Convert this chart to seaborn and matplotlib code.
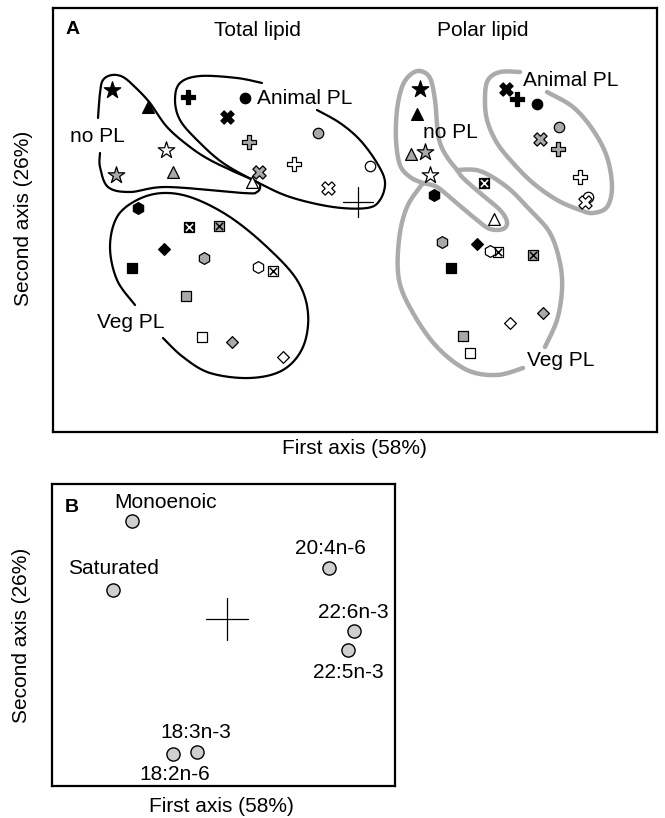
import numpy as np
import pandas as pd
import matplotlib
matplotlib.use("Agg")
import matplotlib.pyplot as plt
import seaborn as sns

sns.set_theme(style="white")
plt.rcParams["font.family"] = ["Liberation Sans", "DejaVu Sans"]
plt.rcParams["text.color"] = "black"

# ---------------- Panel A : sample scores (arbitrary units, centroid at 0,0)
total_shape = ["star", "tri", "star", "star", "tri", "tri", "plus", "circle", "x", "plus", "circle", "plus", "x", "x", "circle",
               "hex", "boxx", "boxx", "diamond", "hex", "square", "hex", "boxx", "square", "square", "diamond", "diamond"]
total_fill = ["f", "f", "o", "h", "h", "o", "f", "f", "f", "h", "h", "o", "h", "o", "o",
              "f", "f", "h", "f", "h", "f", "o", "o", "h", "o", "h", "o"]
total_x = [-246, -210, -192, -242, -185, -106, -170, -113, -131, -109, -40, -64, -99, -30, 12,
           -220, -169, -139, -194, -154, -226, -100, -85, -172, -156, -126, -75]
total_y = [112, 95, 52, 27, 30, 20, 105, 104, 85, 60, 69, 38, 30, 14, 36,
           -6, -25, -24, -47, -56, -66, -65, -69, -94, -135, -140, -155]

polar_shape = ["star", "tri", "tri", "star", "star", "hex", "boxx", "tri", "x", "plus", "circle", "circle", "x", "plus", "plus", "circle", "x",
               "hex", "diamond", "hex", "boxx", "boxx", "square", "diamond", "diamond", "square", "square"]
polar_fill = ["f", "f", "h", "h", "o", "f", "f", "o", "f", "f", "f", "h", "h", "h", "o", "o", "o",
              "h", "f", "o", "o", "h", "f", "h", "o", "h", "o"]
polar_x = [62, 59, 53, 67, 72, 76, 126, 136, 148, 159, 179, 201, 182, 200, 222, 230, 227,
           84, 119, 132, 140, 175, 93, 185, 152, 105, 112]
polar_y = [113, 88, 48, 50, 27, 7, 19, -17, 113, 103, 98, 75, 63, 53, 25, 5, 0,
           -40, -42, -49, -50, -53, -66, -111, -121, -134, -151]

# group outlines (hand-drawn envelopes)
nopl_total = [(-258, 49), (-258, 35), (-250, 15), (-228, 10), (-191, 15), (-115, 9), (-101, 10), (-98, 17),
              (-105, 22), (-121, 29), (-148, 42), (-168, 55), (-191, 75), (-208, 99), (-223, 115), (-235, 125),
              (-246, 127), (-255, 122), (-258, 109), (-260, 84)]
animal_total = [(-96, 119), (-121, 124), (-158, 126), (-178, 119), (-183, 102), (-178, 82), (-161, 62), (-135, 39),
                (-101, 20), (-68, 5), (-25, -5), (9, -6), (22, 2), (27, 20), (19, 39), (2, 62), (-18, 79), (-41, 92)]
veg_total = [(-223, -103), (-241, -78), (-248, -45), (-241, -15), (-221, 2), (-195, 9), (-165, 4), (-128, -15),
             (-91, -45), (-61, -78), (-50, -111), (-55, -145), (-75, -168), (-108, -176), (-148, -171), (-175, -155),
             (-195, -136)]
nopl_polar = [(62, 131), (72, 124), (77, 102), (79, 77), (82, 59), (89, 45), (99, 32), (105, 24), (122, 9), (142, -8),
              (149, -20), (145, -27), (132, -27), (119, -18), (95, 2), (79, 15), (65, 19), (52, 25), (42, 37), (38, 62),
              (39, 92), (44, 115), (52, 127)]
veg_polar_a = [(65, 19), (49, -5), (41, -38), (41, -78), (55, -111), (79, -145), (109, -168), (139, -173), (165, -166)]
veg_polar_b = [(187, -145), (199, -118), (204, -88), (202, -61), (192, -31), (172, -8), (149, 15), (122, 31), (99, 32)]
animal_polar = [(162, 130), (142, 130), (130, 122), (127, 105), (129, 82), (139, 59), (155, 39), (175, 19), (199, 2),
                (222, -8), (235, -11), (249, -5), (254, 15), (249, 45), (235, 72), (215, 95), (189, 110)]

# ---------------- Panel B : fatty acid loadings
fa_names = ["Monoenoic", "Saturated", "20:4n-6", "22:6n-3", "22:5n-3", "18:3n-3", "18:2n-6"]
fa_x = [-95, -114, 102, 127, 121, -30, -54]
fa_y = [98, 29, 51, -12, -31, -133, -135]


def smooth(pts, closed=False, n=24):
    P = np.asarray(pts, float)
    if closed:
        P = np.vstack([P[-1], P, P[0], P[1]])
    else:
        P = np.vstack([P[0], P, P[-1]])
    out = []
    t = np.linspace(0, 1, n, endpoint=False)[:, None]
    for i in range(1, len(P) - 2):
        p0, p1, p2, p3 = P[i - 1], P[i], P[i + 1], P[i + 2]
        out.append(0.5 * ((2 * p1) + (-p0 + p2) * t + (2 * p0 - 5 * p1 + 4 * p2 - p3) * t ** 2
                          + (-p0 + 3 * p1 - 3 * p2 + p3) * t ** 3))
    out.append(P[-2][None, :])
    return np.vstack(out)


W, H = 665, 818
fig = plt.figure(figsize=(W / 100, H / 100), dpi=100)
axA = fig.add_axes([53 / W, 1 - 432 / H, 604 / W, 424 / H])
axB = fig.add_axes([52 / W, 1 - 786 / H, 343 / W, 302 / H])

marker_map = {"star": ("*", 12.5), "tri": ("^", 8.5), "plus": ("P", 9.5), "circle": ("o", 7.5),
              "x": ("X", 9.5), "hex": ("h", 8.5), "square": ("s", 7.0), "diamond": ("D", 6.0),
              "boxx": ("s", 7.5)}
face_map = {"f": "black", "h": "#a9a9a9", "o": "white"}

samples = pd.concat([
    pd.DataFrame({"x": total_x, "y": total_y, "shape": total_shape, "fill": total_fill, "lipid": "Total lipid"}),
    pd.DataFrame({"x": polar_x, "y": polar_y, "shape": polar_shape, "fill": polar_fill, "lipid": "Polar lipid"}),
], ignore_index=True)

for (shp, fl), sub in samples.groupby(["shape", "fill"]):
    mk, ms = marker_map[shp]
    sns.scatterplot(data=sub, x="x", y="y", marker=mk, s=ms ** 2, color=face_map[fl],
                    edgecolor="black", linewidth=0.9, ax=axA, legend=False, zorder=4)
    if shp == "boxx":
        sns.scatterplot(data=sub, x="x", y="y", marker="x", s=(ms * 0.7) ** 2,
                        color="white" if fl == "f" else "black", linewidth=1.1,
                        ax=axA, legend=False, zorder=5)

black_kw = dict(color="black", lw=1.6, solid_capstyle="round", zorder=2)
grey_kw = dict(color="#ababab", lw=3.2, solid_capstyle="round", zorder=2)
for pts, closed in [(nopl_total, False), (animal_total, False), (veg_total, False)]:
    c = smooth(pts, closed)
    axA.plot(c[:, 0], c[:, 1], **black_kw)
for pts, closed in [(nopl_polar, True), (veg_polar_a, False), (veg_polar_b, False), (animal_polar, False)]:
    c = smooth(pts, closed)
    axA.plot(c[:, 0], c[:, 1], **grey_kw)

# centroid cross
axA.plot([-15, 15], [0, 0], color="black", lw=0.9, zorder=3)
axA.plot([0, 0], [-15, 15], color="black", lw=0.9, zorder=3)

fs = 15
axA.text(-292, 172, "A", fontsize=14, fontweight="bold", ha="left", va="center")
axA.text(-101, 172, "Total lipid", fontsize=fs, ha="center", va="center")
axA.text(125, 172, "Polar lipid", fontsize=fs, ha="center", va="center")
axA.text(-288, 66, "no PL", fontsize=fs, ha="left", va="center")
axA.text(-101, 104, "Animal PL", fontsize=fs, ha="left", va="center")
axA.text(65, 69, "no PL", fontsize=fs, ha="left", va="center")
axA.text(165, 122, "Animal PL", fontsize=fs, ha="left", va="center")
axA.text(-261, -120, "Veg PL", fontsize=fs, ha="left", va="center")
axA.text(169, -158, "Veg PL", fontsize=fs, ha="left", va="center")

axA.set_xlim(-305, 299)
axA.set_ylim(-230, 194)

# ---------------- Panel B
fa = pd.DataFrame({"x": fa_x, "y": fa_y, "name": fa_names})
sns.scatterplot(data=fa, x="x", y="y", marker="o", s=9.5 ** 2, color="#cfcfcf",
                edgecolor="black", linewidth=1.0, ax=axB, legend=False, zorder=4)
label_off = {"Monoenoic": (33, 19), "Saturated": (0, 21), "20:4n-6": (1, 20), "22:6n-3": (-1, 18),
             "22:5n-3": (0, -22), "18:3n-3": (-1, 19), "18:2n-6": (2, -20)}
for _, r in fa.iterrows():
    dx, dy = label_off[r["name"]]
    axB.annotate(r["name"], (r["x"], r["y"]), xytext=(dx, dy), textcoords="offset pixels",
                 fontsize=fs, ha="center", va="center", color="black")
axB.plot([-21, 21], [0, 0], color="black", lw=0.9, zorder=3)
axB.plot([0, 0], [-21, 21], color="black", lw=0.9, zorder=3)
axB.text(-162, 111, "B", fontsize=14, fontweight="bold", ha="left", va="center")
axB.set_xlim(-175, 168)
axB.set_ylim(-167, 135)

for ax in (axA, axB):
    ax.set_xticks([])
    ax.set_yticks([])
    ax.set_xlabel("")
    ax.set_ylabel("")
    for sp in ax.spines.values():
        sp.set_visible(True)
        sp.set_color("black")
        sp.set_linewidth(1.6)

fig.text(24 / W, 1 - 218 / H, "Second axis (26%)", rotation=90, fontsize=fs, ha="center", va="center")
fig.text(354 / W, 1 - 448 / H, "First axis (58%)", fontsize=fs, ha="center", va="center")
fig.text(22 / W, 1 - 635 / H, "Second axis (26%)", rotation=90, fontsize=fs, ha="center", va="center")
fig.text(221 / W, 1 - 806 / H, "First axis (58%)", fontsize=fs, ha="center", va="center")

fig.savefig("out.png", dpi=100, facecolor="white")
